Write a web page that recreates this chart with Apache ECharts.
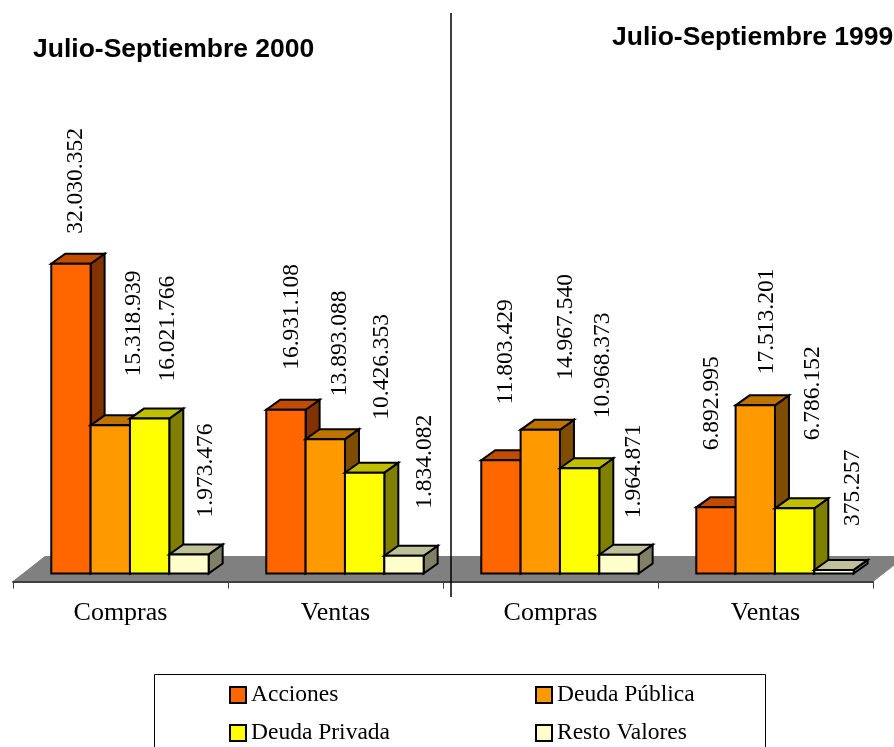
<!DOCTYPE html>
<html>
<head>
<meta charset="utf-8">
<style>
  html, body { margin: 0; padding: 0; background: #fff; }
  #chart { width: 894px; height: 747px; overflow: hidden; }
</style>
<script src="https://cdn.jsdelivr.net/npm/echarts@6/dist/echarts.min.js"></script>
</head>
<body>
<div id="chart"></div>
<script>
const categories = ['Compras', 'Ventas'];
const seriesNames = ['Acciones', 'Deuda Pública', 'Deuda Privada', 'Resto Valores'];

const acciones2000 = [32030352, 16931108];
const deudaPublica2000 = [15318939, 13893088];
const deudaPrivada2000 = [16021766, 10426353];
const restoValores2000 = [1973476, 1834082];

const acciones1999 = [11803429, 6892995];
const deudaPublica1999 = [14967540, 17513201];
const deudaPrivada1999 = [10968373, 6786152];
const restoValores1999 = [1964871, 375257];

const faceColors = ['#ff6600', '#ff9900', '#ffff00', '#ffffcc'];
const topColors = ['#bf4c00', '#bf7300', '#bfbf00', '#bfbf99'];
const sideColors = ['#803300', '#804c00', '#808000', '#808066'];

// the labels were placed by hand in the original, so each one gets its own nudge [dx, dy]
// measured from the middle of the bar and the top of its front face
const labelNudge2000 = [
  [[4.5, -30], [5.5, -40]],
  [[23.5, -49], [15, -43]],
  [[18.5, -37], [17.5, -53]],
  [[17, -37], [20.5, -47]],
];
const labelNudge1999 = [
  [[5, -56], [-4, -57]],
  [[26, -50], [12, -31]],
  [[23, -50], [18, -68]],
  [[14.5, -36.5], [19, -44]],
];

const DEPTH_X = 14;
const DEPTH_Y = -10;
const BAR_RATIO = 0.183;
const GROUP_SHIFT = 0.044;
const SERIF = '"Liberation Serif", serif';

const formatValue = (v) => String(v).replace(/\B(?=(\d{3})+(?!\d))/g, '.');

const barItem = (index, nudges) => (params, api) => {
  const catIndex = api.value(0);
  const value = api.value(1);
  const base = api.coord([catIndex, 0]);
  const top = api.coord([catIndex, value]);
  const band = api.size([1, 0])[0];
  const w = band * BAR_RATIO;
  const x0 = base[0] + band * GROUP_SHIFT + (index - 2) * w;
  const x1 = x0 + w;
  const y0 = base[1];
  const y1 = top[1];
  const stroke = { stroke: '#000', lineWidth: 2, lineJoin: 'miter' };
  const nudge = nudges[index][catIndex];
  return {
    type: 'group',
    children: [
      {
        type: 'polygon',
        shape: { points: [[x1, y0], [x1 + DEPTH_X, y0 + DEPTH_Y], [x1 + DEPTH_X, y1 + DEPTH_Y], [x1, y1]] },
        style: { fill: sideColors[index], ...stroke },
      },
      {
        type: 'polygon',
        shape: { points: [[x0, y1], [x1, y1], [x1 + DEPTH_X, y1 + DEPTH_Y], [x0 + DEPTH_X, y1 + DEPTH_Y]] },
        style: { fill: topColors[index], ...stroke },
      },
      {
        type: 'rect',
        shape: { x: x0, y: y1, width: w, height: y0 - y1 },
        style: { fill: faceColors[index], ...stroke },
      },
      {
        type: 'text',
        x: x0 + w / 2 + nudge[0],
        y: y1 + nudge[1],
        rotation: Math.PI / 2,
        z2: 50,
        style: {
          text: formatValue(value),
          x: 0,
          y: 0,
          align: 'left',
          verticalAlign: 'middle',
          fill: '#000',
          font: `23.5px ${SERIF}`,
        },
      },
    ],
  };
};

const floorItem = (params) => {
  const r = params.coordSys;
  const yFront = r.y + r.height + 8;
  const yBack = yFront - 25;
  return {
    type: 'polygon',
    shape: {
      points: [[r.x, yFront], [r.x + r.width, yFront], [r.x + r.width + 32, yBack], [r.x + 32, yBack]],
    },
    style: { fill: '#808080', stroke: '#808080', lineWidth: 1 },
  };
};

const panels = [
  { grid: 0, nudges: labelNudge2000, values: [acciones2000, deudaPublica2000, deudaPrivada2000, restoValores2000] },
  { grid: 1, nudges: labelNudge1999, values: [acciones1999, deudaPublica1999, deudaPrivada1999, restoValores1999] },
];

const series = [];
panels.forEach((p) => {
  series.push({
    type: 'custom',
    xAxisIndex: p.grid,
    yAxisIndex: p.grid,
    renderItem: floorItem,
    data: [[0, 0]],
    silent: true,
    z: 1,
  });
});
panels.forEach((p) => {
  p.values.forEach((vals, i) => {
    series.push({
      type: 'custom',
      name: seriesNames[i],
      xAxisIndex: p.grid,
      yAxisIndex: p.grid,
      renderItem: barItem(i, p.nudges),
      encode: { x: 0, y: 1 },
      itemStyle: { color: faceColors[i] },
      data: vals.map((v, c) => [c, v]),
      z: 2,
    });
  });
});

const xAxisFor = (gridIndex) => ({
  type: 'category',
  gridIndex,
  data: categories,
  offset: 8,
  axisLine: { onZero: false, lineStyle: { color: '#404040', width: 2 } },
  axisTick: { show: true, alignWithLabel: false, length: 7, lineStyle: { color: '#404040', width: 1 } },
  axisLabel: { color: '#000', fontFamily: SERIF, fontSize: 26, margin: 19 },
  z: 3,
});

const yAxisFor = (gridIndex) => ({
  type: 'value',
  gridIndex,
  min: 0,
  max: 40000000,
  show: false,
});

const legendFor = (names, left) => ({
  data: names,
  orient: 'vertical',
  left,
  top: 683,
  height: 100,
  padding: 0,
  icon: 'rect',
  itemWidth: 16,
  itemHeight: 16,
  itemGap: 14,
  itemStyle: { borderColor: '#000', borderWidth: 2 },
  textStyle: { color: '#000', fontFamily: SERIF, fontSize: 23.5, padding: [0, 0, 0, 0] },
});

const titleFont = { fontFamily: '"Liberation Sans", sans-serif', fontWeight: 'bold', fontSize: 26.5, color: '#000' };

const option = {
  animation: false,
  backgroundColor: '#fff',
  title: [
    { text: 'Julio-Septiembre 2000', left: 33, top: 36, padding: 0, textStyle: titleFont },
    { text: 'Julio-Septiembre 1999', left: 612, top: 24, padding: 0, textStyle: titleFont },
  ],
  legend: [
    legendFor([seriesNames[0], seriesNames[2]], 229),
    legendFor([seriesNames[1], seriesNames[3]], 535),
  ],
  grid: [
    { left: 13, width: 430, top: 573.5 - 386.8, height: 386.8 },
    { left: 443, width: 430, top: 573.5 - 384, height: 384 },
  ],
  xAxis: [xAxisFor(0), xAxisFor(1)],
  yAxis: [yAxisFor(0), yAxisFor(1)],
  series,
  graphic: [
    {
      type: 'line',
      shape: { x1: 451, y1: 13, x2: 451, y2: 597 },
      style: { stroke: '#000', lineWidth: 1.5 },
      z: 100,
    },
    {
      type: 'polyline',
      shape: { points: [[154.5, 750], [154.5, 674.5], [765.5, 674.5], [765.5, 750]] },
      style: { stroke: '#000', lineWidth: 1, fill: null },
      z: 100,
    },
  ],
};

const chart = echarts.init(document.getElementById('chart'), null, { renderer: 'canvas' });
chart.setOption(option);
</script>
</body>
</html>
